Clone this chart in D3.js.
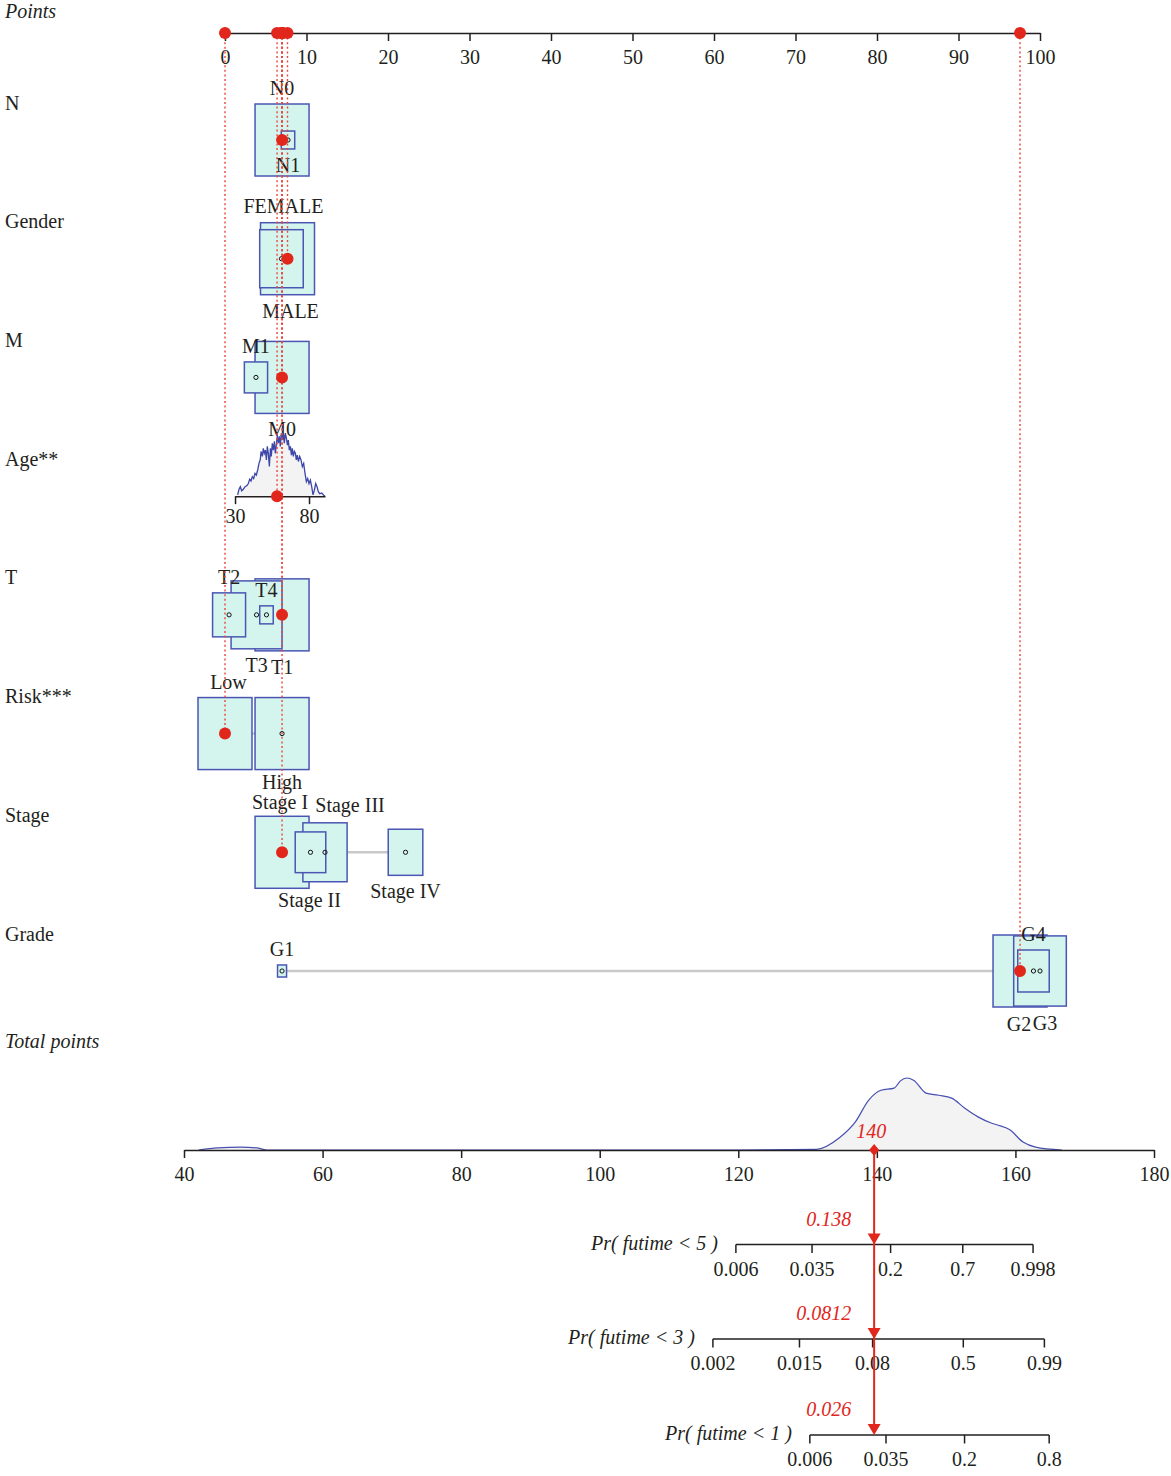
<!DOCTYPE html>
<html><head><meta charset="utf-8">
<script src="https://cdn.jsdelivr.net/npm/d3@7"></script>
<style>
body{margin:0;background:#fff}
text{font-family:"Liberation Serif","DejaVu Serif",serif;}
</style>
</head><body><svg id="c" width="1171" height="1476"></svg>
<script>
// ---------------- DATA ----------------
const pointsTicks = [0,10,20,30,40,50,60,70,80,90,100];
const totalTicks = [40,60,80,100,120,140,160,180];
const rowNames = ["N","Gender","M","Age**","T","Risk***","Stage","Grade"];

const nCats = ["N0","N1"],                 nPoints = [7.0, 7.73],              nFreq = [1.0, 0.062];
const genderCats = ["FEMALE","MALE"],      genderPoints = [6.93, 7.67],        genderFreq = [0.65, 1.0];
const mCats = ["M0","M1"],                 mPoints = [7.0, 3.8],               mFreq = [1.0, 0.185];
const tCats = ["T1","T2","T3","T4"],       tPoints = [7.0, 0.5, 3.87, 5.09],   tFreq = [1.0, 0.373, 0.89, 0.0625];
const riskCats = ["High","Low"],           riskPoints = [7.0, 0.0],            riskFreq = [1.0, 1.0];
const stageCats = ["Stage I","Stage II","Stage III","Stage IV"], stagePoints = [7.0, 10.49, 12.27, 22.15], stageFreq = [1.0, 0.32, 0.67, 0.41];
const gradeCats = ["G1","G2","G3","G4"],   gradePoints = [7.0, 97.55, 100.0, 99.2], gradeFreq = [0.028, 1.0, 0.95, 0.34];

const selectedCategories = ["N0","MALE","M0","T1","Low","Stage I","G2"];
const selectedAge = 58.4;

// Age: tick labels and mapping age -> points
const ageTicks = [30, 80];
const ageRange = [30, 90.8];
const ageAnchorPoints = [1.23, 10.31]; // points at age 30 and 80
const ageGrid = [31.8,32.7,33.6,34.5,35.6,36.8,38.1,39.0,39.9,40.8,41.7,42.6,43.5,44.4,45.3,46.2,47.1,47.6,48.5,49.1,49.8,50.5,51.2,51.8,52.5,53.2,53.9,54.5,55.2,55.9,56.6,57.2,57.9,58.6,59.3,60.0,60.6,61.3,62.0,62.7,63.3,64.0,64.7,65.4,66.0,66.7,67.4,68.1,68.7,69.4,70.1,70.8,71.4,72.1,72.8,73.7,74.6,75.5,76.4,77.3,78.2,79.1,80.0,80.9,81.8,82.7,83.6,84.5,85.4,86.3,87.2,88.6,89.9,90.8];
const ageDens = [0.02,0.11,0.15,0.085,0.11,0.15,0.17,0.20,0.27,0.24,0.31,0.28,0.36,0.335,0.415,0.52,0.585,0.71,0.63,0.76,0.68,0.73,0.575,0.79,0.68,0.47,0.76,0.63,0.84,0.73,0.87,0.68,0.81,0.97,0.84,0.95,0.79,1.0,0.89,0.97,0.84,1.0,0.92,0.81,0.89,0.73,0.79,0.65,0.76,0.63,0.71,0.68,0.575,0.65,0.55,0.63,0.575,0.47,0.52,0.36,0.23,0.28,0.20,0.255,0.15,0.02,0.095,0.20,0.15,0.07,0.04,0.05,0.015,0.0];

// Total points density
const totalGrid = [42.1,44.9,48.2,50.5,51.9,60,80,100,120,131.3,134.6,136.9,138.8,140.6,142.5,143.4,144.3,145.3,147.1,148.9,150.8,152.7,154.6,156.5,157.3,159.2,161.1,162.9,166.7];
const totalDens = [0.0,0.03,0.04,0.03,0.0,0.0,0.0,0.0,0.0,0.01,0.17,0.39,0.69,0.83,0.86,0.96,1.0,0.97,0.79,0.76,0.72,0.58,0.46,0.375,0.35,0.28,0.11,0.04,0.0];

// Outcome axes: Pr = 1 - exp(-exp(a + b*T))
const probLabels = ["Pr( futime < 5 )","Pr( futime < 3 )","Pr( futime < 1 )"];
const probIntercepts = [-24.473, -25.037, -26.200];
const probSlope = 0.1618;
const probTicks5 = [0.006,0.035,0.2,0.7,0.998];
const probTicks3 = [0.002,0.015,0.08,0.5,0.99];
const probTicks1 = [0.006,0.035,0.2,0.8];
const probValues = [0.138, 0.0812, 0.026];

// ---------------- LAYOUT ----------------
const RED = "#e1261c", DOT = "#e8473d", BOXFILL = "#d4f5ee", BOXSTROKE = "#4b56b3", INK = "#231f20";
const FS = 20;
// label repel nudges (px) to avoid overlaps, as in the original layout
const labelNudge = {
  "FEMALE":[2,-8], "MALE":[3,0], "Low":[3.5,0], "High":[0,-4],
  "Stage I":[-2,2], "Stage III":[25,-2], "Stage II":[-1,11], "G3":[5,1], "G2":[-1,1]
};

// ---------------- DRAW ----------------
const svg = d3.select("#c");
svg.append("rect").attr("width",1171).attr("height",1476).attr("fill","#fff");

const x = d3.scaleLinear().domain([0,100]).range([225,1040]);
const xt = d3.scaleLinear().domain([40,180]).range([184,1154]);
const rowY = d3.scaleLinear().domain([0,7]).range([140,971]);
const ageToPts = d3.scaleLinear().domain(ageTicks).range(ageAnchorPoints);
const POINTS_Y = 33, TOTAL_Y = 1150;
const BOXW = 54, BOXH = 72;

function styleAxis(g){
  g.select(".domain").attr("stroke",INK).attr("stroke-width",1.5);
  g.selectAll(".tick line").attr("stroke",INK).attr("stroke-width",1.5);
  g.selectAll(".tick text").attr("fill",INK).attr("font-size",FS)
   .attr("font-family",'"Liberation Serif","DejaVu Serif",serif');
}

// Row titles
svg.append("text").attr("x",5).attr("y",18).attr("font-size",FS).attr("font-style","italic").attr("fill",INK).text("Points");
rowNames.forEach((n,i)=>{
  svg.append("text").attr("x",5).attr("y",rowY(i)-30.5).attr("font-size",FS).attr("fill",INK).text(n);
});
svg.append("text").attr("x",5).attr("y",1048).attr("font-size",FS).attr("font-style","italic").attr("fill",INK).text("Total points");

// Points axis
svg.append("g").attr("transform",`translate(0,${POINTS_Y})`)
  .call(d3.axisBottom(x).tickValues(pointsTicks).tickSize(8).tickSizeOuter(0).tickPadding(9))
  .call(styleAxis);

// Categorical rows
const catVars = [
  {row:0, cats:nCats, pts:nPoints, freq:nFreq},
  {row:1, cats:genderCats, pts:genderPoints, freq:genderFreq},
  {row:2, cats:mCats, pts:mPoints, freq:mFreq},
  {row:4, cats:tCats, pts:tPoints, freq:tFreq},
  {row:5, cats:riskCats, pts:riskPoints, freq:riskFreq},
  {row:6, cats:stageCats, pts:stagePoints, freq:stageFreq},
  {row:7, cats:gradeCats, pts:gradePoints, freq:gradeFreq}
];
const selections = [];
catVars.forEach(v=>{
  const cy = rowY(v.row);
  const items = v.cats.map((c,i)=>({cat:c, pts:v.pts[i], freq:v.freq[i]}));
  const g = svg.append("g");
  const ext = d3.extent(items, d=>d.pts);
  g.append("line").attr("x1",x(ext[0])).attr("x2",x(ext[1])).attr("y1",cy).attr("y2",cy)
    .attr("stroke","#c9c9c9").attr("stroke-width",2.5);
  const byFreq = items.slice().sort((a,b)=>b.freq-a.freq);
  byFreq.forEach(d=>{
    const w = BOXW*Math.sqrt(d.freq), h = BOXH*Math.sqrt(d.freq);
    d.w=w; d.h=h;
    g.append("rect").attr("x",x(d.pts)-w/2).attr("y",cy-h/2).attr("width",w).attr("height",h)
      .attr("fill",BOXFILL).attr("stroke",BOXSTROKE).attr("stroke-width",1.5);
  });
  items.forEach(d=>{
    g.append("circle").attr("cx",x(d.pts)).attr("cy",cy).attr("r",2.1)
      .attr("fill","none").attr("stroke","#111").attr("stroke-width",1);
  });
  const byPts = items.slice().sort((a,b)=>a.pts-b.pts);
  byPts.forEach((d,k)=>{
    const above = k%2===0;
    const nd = labelNudge[d.cat] || [0,0];
    const yy = (above ? cy-d.h/2-9 : cy+d.h/2+23) + nd[1];
    g.append("text").attr("x",x(d.pts)+nd[0]).attr("y",yy).attr("text-anchor","middle")
      .attr("font-size",FS).attr("fill",INK).text(d.cat);
  });
  items.filter(d=>selectedCategories.includes(d.cat)).forEach(d=>selections.push({pts:d.pts, y:cy}));
});

// Age row
(function(){
  const cy = rowY(3);
  const ax = a => x(ageToPts(a));
  const hy = d3.scaleLinear().domain([0,1]).range([cy, cy-63]);
  const pts = ageGrid.map((a,i)=>[a, ageDens[i]]);
  svg.append("path").datum(pts)
    .attr("d", d3.area().x(d=>ax(d[0])).y0(cy).y1(d=>hy(d[1])))
    .attr("fill","#f3f3f3");
  svg.append("path").datum(pts)
    .attr("d", d3.line().x(d=>ax(d[0])).y(d=>hy(d[1])))
    .attr("fill","none").attr("stroke","#3d47aa").attr("stroke-width",1.3);
  const ageScale = d3.scaleLinear().domain(ageRange).range([ax(ageRange[0]), ax(ageRange[1])]);
  svg.append("g").attr("transform",`translate(0,${cy})`)
    .call(d3.axisBottom(ageScale).tickValues(ageTicks).tickSize(8).tickSizeOuter(0).tickPadding(5))
    .call(styleAxis);
  selections.push({pts:ageToPts(selectedAge), y:cy});
})();

// Dotted guide lines
selections.forEach(s=>{
  svg.append("line").attr("x1",x(s.pts)).attr("x2",x(s.pts)).attr("y1",POINTS_Y).attr("y2",s.y)
    .attr("stroke",DOT).attr("stroke-width",1.4).attr("stroke-dasharray","2,2.6");
});
// Red dots
selections.forEach(s=>{
  svg.append("circle").attr("cx",x(s.pts)).attr("cy",s.y).attr("r",6).attr("fill",RED);
  svg.append("circle").attr("cx",x(s.pts)).attr("cy",POINTS_Y).attr("r",6).attr("fill",RED);
});

// Total points density
const totalPts = d3.sum(selections, s=>s.pts);
(function(){
  const hy = d3.scaleLinear().domain([0,1]).range([TOTAL_Y, TOTAL_Y-72]);
  const pts = totalGrid.map((t,i)=>[t, totalDens[i]]);
  svg.append("path").datum(pts)
    .attr("d", d3.area().curve(d3.curveMonotoneX).x(d=>xt(d[0])).y0(TOTAL_Y).y1(d=>hy(d[1])))
    .attr("fill","#f3f3f3");
  svg.append("path").datum(pts)
    .attr("d", d3.line().curve(d3.curveMonotoneX).x(d=>xt(d[0])).y(d=>hy(d[1])))
    .attr("fill","none").attr("stroke","#4650b0").attr("stroke-width",1.2);
})();
svg.append("g").attr("transform",`translate(0,${TOTAL_Y})`)
  .call(d3.axisBottom(xt).tickValues(totalTicks).tickSize(8).tickSizeOuter(0).tickPadding(9))
  .call(styleAxis);

// Outcome axes
const probTickSets = [probTicks5, probTicks3, probTicks1];
const probY = [1244.5, 1339, 1435];
const cloglog = p => Math.log(-Math.log(1-p));
const ax0 = xt(totalPts);
probTickSets.forEach((ticks,i)=>{
  const a = probIntercepts[i];
  const tOf = p => (cloglog(p)-a)/probSlope;
  const xs = ticks.map(p=>xt(tOf(p)));
  const sc = d3.scaleOrdinal().domain(ticks).range(xs);
  const g = svg.append("g").attr("transform",`translate(0,${probY[i]})`);
  g.append("line").attr("x1",xs[0]).attr("x2",xs[xs.length-1]).attr("stroke",INK).attr("stroke-width",1.5);
  ticks.forEach(p=>{
    g.append("line").attr("x1",sc(p)).attr("x2",sc(p)).attr("y1",0).attr("y2",8.5).attr("stroke",INK).attr("stroke-width",1.5);
    g.append("text").attr("x",sc(p)).attr("y",31).attr("text-anchor","middle").attr("font-size",FS).attr("fill",INK).text(String(p));
  });
  g.append("text").attr("x",xs[0]-18).attr("y",5).attr("text-anchor","end").attr("font-size",FS)
    .attr("font-style","italic").attr("fill",INK).text(probLabels[i]);
  g.append("text").attr("x",ax0-23).attr("y",-19).attr("text-anchor","end").attr("font-size",FS)
    .attr("font-style","italic").attr("fill",RED).text(String(probValues[i]));
});

// Red arrow
svg.append("line").attr("x1",ax0).attr("x2",ax0).attr("y1",TOTAL_Y).attr("y2",probY[2]-4)
  .attr("stroke",RED).attr("stroke-width",2);
probY.forEach(yy=>{
  svg.append("path").attr("d",`M${ax0-6.5},${yy-11}L${ax0+6.5},${yy-11}L${ax0},${yy}Z`).attr("fill",RED);
});
svg.append("path").attr("d",`M${ax0},${TOTAL_Y-6}L${ax0+5},${TOTAL_Y}L${ax0},${TOTAL_Y+6}L${ax0-5},${TOTAL_Y}Z`).attr("fill",RED);
svg.append("text").attr("x",ax0-3).attr("y",TOTAL_Y-12).attr("text-anchor","middle").attr("font-size",FS)
  .attr("font-style","italic").attr("fill",RED).text(String(Math.round(totalPts)));
</script></body></html>
